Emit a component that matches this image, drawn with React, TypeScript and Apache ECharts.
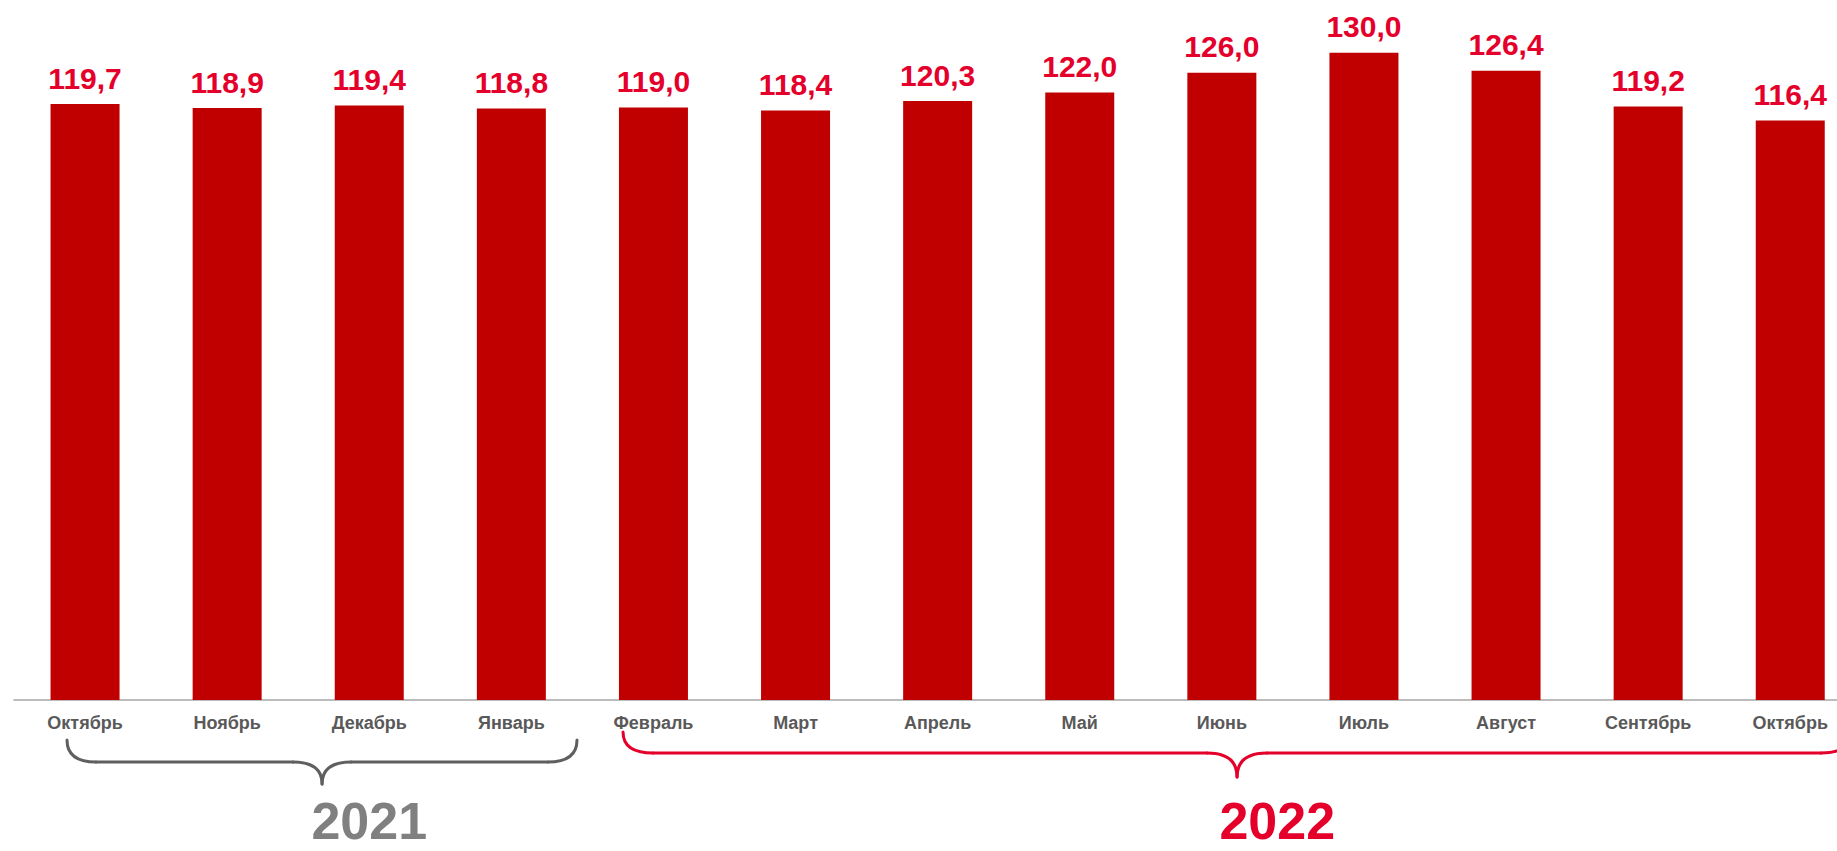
import React, { useEffect, useRef } from 'react';
import * as echarts from 'echarts';

const months = ['Октябрь', 'Ноябрь', 'Декабрь', 'Январь', 'Февраль', 'Март', 'Апрель', 'Май', 'Июнь', 'Июль', 'Август', 'Сентябрь', 'Октябрь'];
const values = [119.7, 118.9, 119.4, 118.8, 119.0, 118.4, 120.3, 122.0, 126.0, 130.0, 126.4, 119.2, 116.4];
const yearLabels = ['2021', '2022'];

const FONT = '"Liberation Sans", Arial, Helvetica, sans-serif';
const BAR = '#C00000';
const RED = '#E4002B';
const GRAY_BRACE = '#5F5F5F';
const GRAY_YEAR = '#808080';

function brace(xL: number, xC: number, xR: number, yTop: number, yH: number, yTip: number, rEnd: number, rMid: number, color: string) {
  const style = { stroke: color, lineWidth: 3, fill: 'none', lineCap: 'round' };
  return [
    { type: 'bezierCurve', shape: { x1: xL, y1: yTop, cpx1: xL, cpy1: yH, x2: xL + rEnd, y2: yH }, style },
    { type: 'line', shape: { x1: xL + rEnd, y1: yH, x2: xC - rMid, y2: yH }, style },
    { type: 'bezierCurve', shape: { x1: xC - rMid, y1: yH, cpx1: xC, cpy1: yH, x2: xC, y2: yTip }, style },
    { type: 'bezierCurve', shape: { x1: xC + rMid, y1: yH, cpx1: xC, cpy1: yH, x2: xC, y2: yTip }, style },
    { type: 'line', shape: { x1: xC + rMid, y1: yH, x2: xR - rEnd, y2: yH }, style },
    { type: 'bezierCurve', shape: { x1: xR - rEnd, y1: yH, cpx1: xR, cpy1: yH, x2: xR, y2: yTop }, style },
  ];
}

export default function App() {
  const ref = useRef<HTMLDivElement>(null);
  useEffect(() => {
    if (!ref.current) return;
    const chart = echarts.init(ref.current, null, { renderer: 'svg' });
    chart.setOption({
      animation: false,
      backgroundColor: '#ffffff',
      grid: { left: 14, top: 3, width: 1847.3, height: 697, outerBoundsMode: 'none', containLabel: false },
      xAxis: {
        type: 'category',
        data: months,
        boundaryGap: true,
        axisLine: { lineStyle: { color: '#A6A6A6', width: 1.5 } },
        axisTick: { show: false },
        axisLabel: {
          interval: 0,
          margin: 14,
          color: '#595959',
          fontSize: 18,
          fontWeight: 'bold',
          fontFamily: FONT,
        },
      },
      yAxis: { type: 'value', min: 0, max: 140, show: false, splitLine: { show: false } },
      series: [
        {
          type: 'bar',
          data: values,
          barWidth: 69,
          itemStyle: { color: BAR },
          label: {
            show: true,
            position: 'top',
            distance: 11,
            color: RED,
            fontSize: 30,
            fontWeight: 'bold',
            fontFamily: FONT,
            formatter: (p: any) => Number(p.value).toFixed(1).replace('.', ','),
          },
        },
      ],
    });

    const x0 = chart.convertToPixel({ xAxisIndex: 0 }, 0) as number;
    const x1 = chart.convertToPixel({ xAxisIndex: 0 }, 1) as number;
    const step = x1 - x0;
    const px = (i: number) => x0 + step * i;
    const axisY = chart.convertToPixel({ yAxisIndex: 0 }, 0) as number;

    const b2021 = brace(px(-0.127), px(1.668), px(3.462), axisY + 40, axisY + 62, axisY + 84, 29, 29, GRAY_BRACE);
    const c2022 = px(8.107);
    const l2022 = px(3.786);
    const b2022 = brace(l2022, c2022, 2 * c2022 - l2022, axisY + 32, axisY + 53, axisY + 77, 30, 30, RED);

    chart.setOption({
      graphic: [
        ...b2021,
        ...b2022,
        {
          type: 'text',
          x: px(2.0),
          y: axisY + 121,
          style: { text: yearLabels[0], fill: GRAY_YEAR, font: `bold 52px ${FONT}`, align: 'center', verticalAlign: 'middle' },
        },
        {
          type: 'text',
          x: px(8.39),
          y: axisY + 121,
          style: { text: yearLabels[1], fill: RED, font: `bold 52px ${FONT}`, align: 'center', verticalAlign: 'middle' },
        },
      ],
    });

    return () => chart.dispose();
  }, []);
  return <div ref={ref} style={{ position: 'absolute', left: 0, top: 0, width: 1837, height: 851 }} />;
}
